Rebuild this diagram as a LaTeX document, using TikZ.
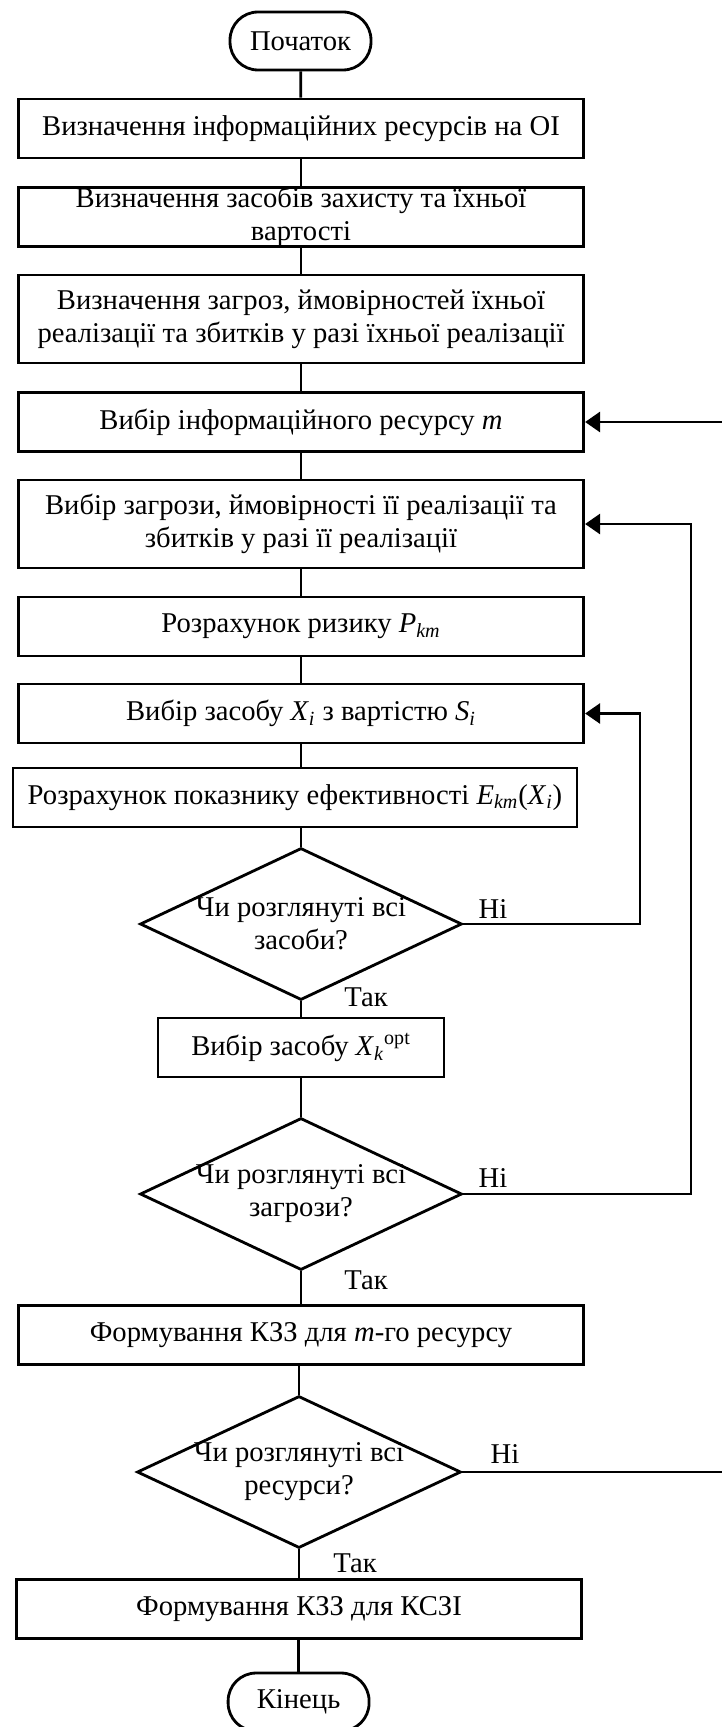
\documentclass[tikz,border=0pt]{standalone}
\usepackage{fontspec}
\setmainfont{Liberation Serif}
\usetikzlibrary{arrows.meta,shapes.geometric}

\begin{document}
\begin{tikzpicture}[x=0.02cm,y=-0.02cm,font=\fontsize{16.3}{18.8}\selectfont]

	\tikzstyle process=[draw, line width=1.6pt, rectangle, minimum width=11.31cm, minimum height=1.18cm, inner sep=0pt, align=center];
	\tikzstyle terminal=[draw, line width=1.6pt, rectangle, rounded corners=0.56cm, minimum width=2.82cm, minimum height=1.16cm, inner sep=0pt];
	\tikzstyle decision=[draw, line width=1.6pt, diamond, aspect=2.12, minimum width=6.44cm, minimum height=3.04cm, inner sep=0pt];
	\tikzstyle flow lines=[line width=1.6pt];
	\tikzstyle back lines=[line width=1.6pt, -{Triangle[length=0.3cm,width=0.4cm]}];

	\useasboundingbox (0,0) rectangle (722,1727);

	% main column
	\node[terminal] (start) at (300.5,41) {Початок};
	\node[process] (b1) at (301,128.5) {Визначення інформаційних ресурсів на ОІ};
	\node[process] (b2) at (301,217) {Визначення засобів захисту та їхньої\\вартості};
	\node[process, minimum height=1.76cm] (b3) at (301,319) {Визначення загроз, ймовірностей їхньої\\реалізації та збитків у разі їхньої реалізації};
	\node[process] (b4) at (301,422) {Вибір інформаційного ресурсу \textit{m}};
	\node[process, minimum height=1.76cm] (b5) at (301,524) {Вибір загрози, ймовірності її реалізації та\\збитків у разі її реалізації};
	\node[process] (b6) at (301,626.5) {Розрахунок ризику \textit{P}\textsubscript{\textit{km}}};
	\node[process] (b7) at (301,713.5) {Вибір засобу \textit{X}\textsubscript{\textit{i}} з вартістю \textit{S}\textsubscript{\textit{i}}};
	\node[process, minimum width=11.28cm] (b8) at (295,797.5) {Розрахунок показнику ефективності \textit{E}\textsubscript{\textit{km}}(\textit{X}\textsubscript{\textit{i}})};

	\node[decision] (d1) at (301,924) {};
	\node[align=center] (q1) at (d1) {Чи розглянуті всі\\засоби?};

	\node[process, minimum width=5.72cm] (b9) at (301,1047.5) {Вибір засобу \textit{X}\textsubscript{\textit{k}}\textsuperscript{opt}};

	\node[decision] (d2) at (301,1194) {};
	\node[align=center] (q2) at (d2) {Чи розглянуті всі\\загрози?};

	\node[process] (b10) at (301,1335) {Формування КЗЗ для \textit{m}-го ресурсу};

	\node[decision, minimum width=6.48cm] (d3) at (299,1472) {};
	\node[align=center] (q3) at (d3) {Чи розглянуті всі\\ресурси?};

	\node[process] (b11) at (299,1609) {Формування КЗЗ для КСЗІ};
	\node[terminal] (end) at (298.6,1702) {Кінець};

	% answers
	\foreach \n/\x/\y in {1/493/909,2/493/1178,3/505/1454}
		\node (no\n) at (\x,\y) {Ні};
	\foreach \n/\x/\y in {1/366/997,2/366/1280,3/355/1563}
		\node (yes\n) at (\x,\y) {Так};

	% straight flow
	\draw[flow lines] (start) -- (b1);
	\draw[flow lines] (b1) -- (b2);
	\draw[flow lines] (b2) -- (b3);
	\draw[flow lines] (b3) -- (b4);
	\draw[flow lines] (b4) -- (b5);
	\draw[flow lines] (b5) -- (b6);
	\draw[flow lines] (b6) -- (b7);
	\draw[flow lines] (b7.south) -- (b7.south |- b8.north);
	\draw[flow lines] (b8.south -| d1.north) -- (d1.north);
	\draw[flow lines] (d1) -- (b9);
	\draw[flow lines] (b9) -- (d2);
	\draw[flow lines] (d2) -- (b10);
	\draw[flow lines] (b10.south -| d3.north) -- (d3.north);
	\draw[flow lines] (d3) -- (b11);
	\draw[flow lines] (b11.south -| end.north) -- (end.north);

	% loops back
	\coordinate (rail1) at (640,0);
	\coordinate (rail2) at (691,0);
	\coordinate (rail3) at (730,0);
	\draw[back lines] (d1.east) -- (d1.east -| rail1) -- (b7.east -| rail1) -- (b7.east);
	\draw[back lines] (d2.east) -- (d2.east -| rail2) -- (b5.east -| rail2) -- (b5.east);
	\draw[back lines] (d3.east) -- (d3.east -| rail3) -- (b4.east -| rail3) -- (b4.east);

\end{tikzpicture}
\end{document}
